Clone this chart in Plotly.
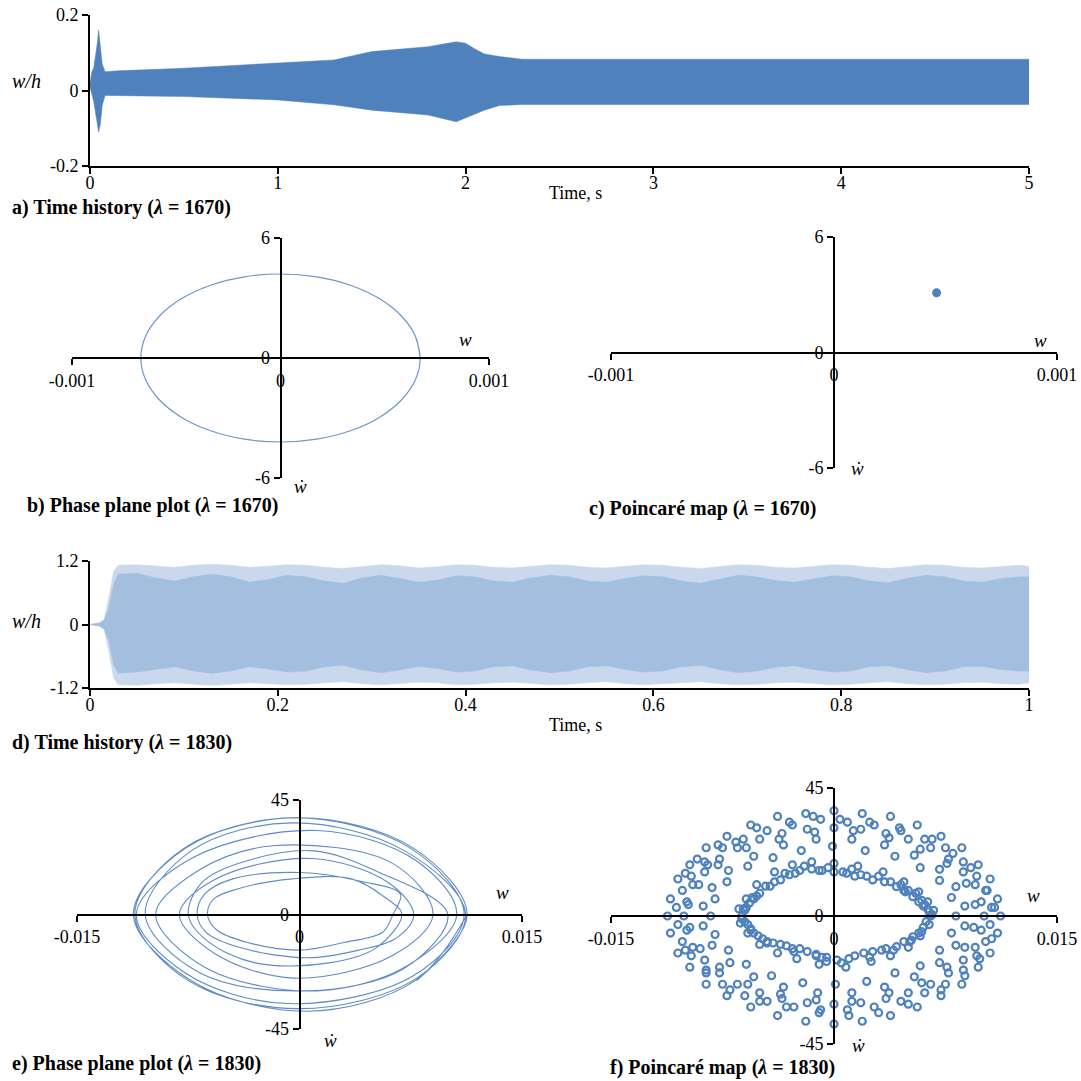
import numpy as np
import plotly.graph_objects as go

W, H = 1081, 1081
BLUE = '#4F81BD'
FONT = 'Liberation Serif, Times New Roman, DejaVu Serif, serif'

# ---------------- a) time history, lambda = 1670 (response band envelope) ----------------
a_t   = [0, 0.01, 0.02, 0.03, 0.04, 0.046, 0.055, 0.065, 0.08, 0.15, 0.5, 1.0, 1.3, 1.5, 1.8, 1.95, 2.0, 2.05, 2.1, 2.18, 2.3, 5.0]
a_top = [0.02, 0.05, 0.06, 0.09, 0.13, 0.16, 0.12, 0.07, 0.05, 0.052, 0.059, 0.072, 0.081, 0.103, 0.116, 0.129, 0.125, 0.11, 0.097, 0.09, 0.083, 0.083]
a_bot = [0.01, -0.01, -0.03, -0.06, -0.09, -0.11, -0.09, -0.04, -0.013, -0.013, -0.016, -0.025, -0.038, -0.052, -0.065, -0.083, -0.073, -0.062, -0.052, -0.04, -0.037, -0.037]

# ---------------- b) phase plane, lambda = 1670 ----------------
b_w = [0.00067, 0.000647, 0.00058, 0.000474, 0.000335, 0.000174, 0.0, -0.000174, -0.000335, -0.000474, -0.00058, -0.000647,
       -0.00067, -0.000647, -0.00058, -0.000474, -0.000335, -0.000174, 0.0, 0.000174, 0.000335, 0.000474, 0.00058, 0.000647,
       0.00067, 0.000647]
b_v = [0, 1.09, 2.1, 2.97, 3.64, 4.06, 4.2, 4.06, 3.64, 2.97, 2.1, 1.09,
       0, -1.09, -2.1, -2.97, -3.64, -4.06, -4.2, -4.06, -3.64, -2.97, -2.1, -1.09,
       0, 1.09]

# ---------------- c) Poincare map, lambda = 1670 ----------------
c_w = [0.00046]
c_v = [3.1]

# ---------------- d) time history, lambda = 1830 (envelopes) ----------------
d_t = [0, 0.01, 0.015, 0.02, 0.025, 0.03, 0.05, 0.07, 0.09, 0.11, 0.13, 0.15, 0.17, 0.19, 0.21, 0.23, 0.25,
       0.27, 0.29, 0.31, 0.33, 0.35, 0.37, 0.39, 0.41, 0.43, 0.45, 0.47, 0.49, 0.51, 0.53, 0.55, 0.57, 0.59,
       0.61, 0.63, 0.65, 0.67, 0.69, 0.71, 0.73, 0.75, 0.77, 0.79, 0.81, 0.83, 0.85, 0.87, 0.89, 0.91, 0.93,
       0.95, 0.97, 0.99, 1.0]
d_in_top = [0, 0.03, 0.08, 0.3, 0.75, 0.95,
            0.97, 0.88, 0.82, 0.9, 0.95, 0.9, 0.8, 0.85, 0.93, 0.9, 0.82, 0.78, 0.88, 0.93, 0.87,
            0.8, 0.84, 0.92, 0.9, 0.82, 0.8, 0.88, 0.93, 0.9, 0.82, 0.8, 0.87, 0.92, 0.9, 0.82,
            0.78, 0.86, 0.93, 0.9, 0.83, 0.8, 0.86, 0.92, 0.9, 0.82, 0.79, 0.87, 0.93, 0.9, 0.82,
            0.8, 0.87, 0.9, 0.9]
d_in_bot = [0, -0.03, -0.08, -0.3, -0.75, -0.92,
            -0.9, -0.85, -0.8, -0.88, -0.92, -0.88, -0.8, -0.84, -0.9, -0.88, -0.8, -0.77, -0.86, -0.91, -0.86,
            -0.79, -0.83, -0.9, -0.88, -0.8, -0.78, -0.86, -0.91, -0.88, -0.8, -0.78, -0.85, -0.9, -0.88, -0.8,
            -0.77, -0.85, -0.91, -0.88, -0.81, -0.78, -0.85, -0.9, -0.88, -0.8, -0.78, -0.85, -0.91, -0.88, -0.8,
            -0.79, -0.85, -0.88, -0.88]
d_out_top = [0, 0.03, 0.1, 0.5, 1.0, 1.12,
             1.13, 1.1, 1.08, 1.12, 1.14, 1.12, 1.08, 1.1, 1.13, 1.12, 1.08, 1.06, 1.1, 1.13, 1.11,
             1.07, 1.09, 1.13, 1.12, 1.08, 1.07, 1.1, 1.13, 1.12, 1.08, 1.07, 1.1, 1.13, 1.12, 1.08,
             1.06, 1.1, 1.13, 1.12, 1.08, 1.07, 1.1, 1.13, 1.12, 1.08, 1.06, 1.1, 1.13, 1.12, 1.08,
             1.07, 1.1, 1.12, 1.1]
d_out_bot = [0, -0.03, -0.1, -0.5, -1.0, -1.14,
             -1.15, -1.12, -1.1, -1.13, -1.15, -1.13, -1.1, -1.12, -1.14, -1.13, -1.1, -1.08, -1.12, -1.14, -1.12,
             -1.09, -1.1, -1.14, -1.13, -1.1, -1.09, -1.12, -1.14, -1.13, -1.1, -1.08, -1.12, -1.14, -1.13, -1.1,
             -1.08, -1.12, -1.14, -1.13, -1.1, -1.09, -1.12, -1.14, -1.13, -1.1, -1.08, -1.12, -1.14, -1.13, -1.1,
             -1.09, -1.12, -1.13, -1.1]

# ---------------- e) phase plane, lambda = 1830 (w in 1e-4 units) ----------------
e_w = [113, 78, 5, -73, -112, -77, -5, 75,
       111, 77, -8, -77, -110, -73, 12, 79,
       106, 73, 12, -63, -97, -69, -18, 63,
       90, 63, -4, -58, -81, -58, 8, 60,
       77, 66, 40, 5, -40, -63, -69, -64, -45, 0, 42, 68,
       63, 56, 30, 0, -35, -56, -62, -58, -42, -5, 35, 57,
       69, 52, 20, -30, -63, -75, -65, -30, 10, 52,
       100, 71, 5, -67, -104, -73, -5, 71,
       112, 79, 0, -75, -111, -78, 0, 77, 113, 79]
e_v = [0, -26, -38, -26, 0, 26, 38, 26,
       0, -24, -35, -23, 0, 22, 33, 21,
       0, -20, -30, -21, 0, 17, 27, 20,
       0, -16, -25, -15, 0, 13.5, 22, 12.5,
       0, -9, -14, -17, -13, -7, 0, 8, 14, 16.5, 13, 8,
       0, -7, -11, -14, -11, -6, 0, 6, 10, 14, 14, 7,
       0, -13, -19, -19, -10, 0, 13, 22, 25, 17,
       0, -21, -30, -23, 0, 25, 36, 25,
       0, -25, -37, -26, 0, 26, 38, 26, 0, -26]

# ---------------- f) Poincare map, lambda = 1830 (w in 1e-4 units) ----------------
f_w = [65, 60, 53, 42, 26, 8.5, -8, -23, -36, -50, -57, -62, -58, -54, -48, -41, -32, -23, -12, 2, 20, 32, 42, 53, 60, 47, 14, -5,
       67, 63, 57, 47, 33, 16, 0, -15, -28, -40, -52, -59, -64, -63, -58, -50, -38, -25, -10, 8, 25, 38, 50, 58, 64,
       64, 57, 48, 34, 18, 0, -15, -30, -43, -54, -60, -60, -51, -36, -18, -5, 10, 26, 47, 57, 62,
       63, 59, 50, 38, 22, 6, -10, -26, -40, -52, -59, -56, -45, -28, -8, 14, 35, 52,
       66, 61, 55, 45, 30, 12, -4, -20, -33, -46, -55, -61, -62, -56, -45, -27, -12, 5, 24, 40, 51, 59,
       82, 79, 71, 58, 41, 21, -1, -22, -41, -58, -72, -80, -83, -80, -71, -59, -42, -21, 1, 22, 41, 58, 71, 79,
       88, 82, 71, 54, 34, 12, -12, -34, -54, -71, -82, -88, -88, -82, -70, -54, -34, -11, 12, 34, 54, 71, 82, 88,
       95, 89, 76, 58, 37, 13, -13, -37, -59, -78, -91, -98, -97, -90, -77, -58, -36, -12, 12, 37, 59, 76, 88, 94,
       101, 99, 95, 87, 77, 65, 50, 35, 18, 0, -18, -35, -50, -65, -77, -87, -95, -99,
       -101, -99, -95, -87, -77, -65, -50, -35, -18, 0, 18, 35, 50, 65, 77, 87, 95, 99,
       106, 102, 96, 87, 75, 61, 45, 27, 9, -9, -28, -45, -61, -75, -87, -96, -102, -106,
       -105, -102, -96, -86, -75, -60, -45, -27, -9, 9, 27, 45, 61, 75, 87, 96, 102, 105,
       112, 110, 105, 97, 86, 72, 56, 38, 19, 0, -19, -38, -56, -72, -86, -97, -105, -110,
       -112, -110, -105, -97, -86, -72, -56, -38, -19, 0, 19, 38, 56, 72, 86, 97, 105, 110,
       -100, -92, -85, -78, -66, -52, -30, -14, 4, 24, 44, 66, 80, 92, 103, 108,
       106, 98, 88, 72, 50, 30, 10, -10, -32, -50, -70, -86, -100]
f_v = [0, 3.5, 6.8, 10.3, 12.7, 15, 16, 16, 12.7, 8, 4.5, 0, -3, -6, -8, -9.5, -10.5, -11.5, -13.5, -15.5, -13, -12, -10.8, -7.3, -4, 9, 14, -16,
       2, 5, 8.5, 12, 15.5, 17.5, 18.5, 19, 18, 15.5, 11, 6, 2.5, -2.5, -6, -10, -13, -15, -17, -18, -16, -14, -11, -7, -3,
       1.5, 5, 8.5, 12, 14.5, 15.5, 16.5, 14.5, 10.5, 6, 2, -2, -7, -10, -12.5, -14.5, -15, -12.5, -9, -6, -2,
       2.5, 5.5, 9, 12, 14, 15.5, 16, 15, 12, 7, 3, -4.5, -9, -11.5, -14.5, -14, -11.5, -8.5,
       0.5, 4, 8, 11, 14, 16.5, 17, 17.5, 15, 10.5, 6.5, 2.5, -1, -5, -9.5, -12.5, -14, -16.5, -14.5, -12, -9, -5.5,
       0, 6.5, 12.5, 17, 21, 23, 24.5, 23, 20.5, 17.5, 12, 6, 0, -6.5, -12, -17, -21, -23.5, -24, -23, -20, -17.5, -12, -6,
       3.5, 10.3, 16.4, 21.4, 25, 27, 27, 25, 21, 16, 10, 3.5, -3.5, -10.3, -16.4, -21.4, -25, -27, -27, -25, -21.4, -16.4, -10.3, -3.5,
       4, 11.5, 18.5, 23.5, 27.5, 30, 29.5, 27, 24, 18, 11, 4, -4, -11.5, -18, -24, -27.5, -29.5, -30, -27, -23.5, -18, -11, -4,
       0, 5, 11, 15.5, 20, 24, 27, 29, 30.5, 31, 30.5, 29, 27, 24, 20, 15.5, 11, 5,
       0, -5, -11, -15.5, -20, -24, -27, -29, -30.5, -31, -30.5, -29, -27, -24, -20, -15.5, -11, -5,
       3, 9, 14, 19, 24, 27, 30, 32, 33, 34, 32, 30, 27, 24, 19, 14, 9, 3,
       -3, -9, -14, -19, -24, -28, -30, -32, -33, -33, -32, -30, -27, -24, -19, -14, -9, -3,
       0, 6, 13, 18, 24, 28, 32, 35, 36, 37, 36, 35, 32, 28, 24, 18, 13, 6,
       0, -6, -13, -18, -24, -28, -32, -35, -37, -38, -37, -35, -32, -28, -24, -18, -13, -6,
       15, 20, 18, 25, 26, 31, 33, 35, 34, 33, 31, 27, 22, 17, 9, 3,
       -8, -15, -21, -26, -31, -34, -35, -34, -32, -30, -26, -20, -12]


def px(x):
    return x / W


def py(y):
    return 1 - y / H


fig = go.Figure()

# a) filled band
fig.add_trace(go.Scatter(x=a_t + a_t[::-1], y=a_top + a_bot[::-1], mode='lines', fill='toself',
                         fillcolor=BLUE, line=dict(color=BLUE, width=0.5), xaxis='x', yaxis='y', hoverinfo='skip'))
# b) ellipse
fig.add_trace(go.Scatter(x=b_w, y=b_v, mode='lines', line=dict(color='#6E97C9', width=1.2, shape='spline', smoothing=1.0),
                         xaxis='x2', yaxis='y2', hoverinfo='skip'))
# c) single point
fig.add_trace(go.Scatter(x=c_w, y=c_v, mode='markers', marker=dict(color=BLUE, size=9),
                         xaxis='x3', yaxis='y3', hoverinfo='skip'))
# d) bands
fig.add_trace(go.Scatter(x=d_t + d_t[::-1], y=d_out_top + d_out_bot[::-1], mode='lines', fill='toself',
                         fillcolor='#C9D8EC', line=dict(color='#C9D8EC', width=0.5), xaxis='x4', yaxis='y4', hoverinfo='skip'))
fig.add_trace(go.Scatter(x=d_t + d_t[::-1], y=d_in_top + d_in_bot[::-1], mode='lines', fill='toself',
                         fillcolor='#A3BEDF', line=dict(color='#A3BEDF', width=0.5), xaxis='x4', yaxis='y4', hoverinfo='skip'))
# e) trajectory
fig.add_trace(go.Scatter(x=np.array(e_w) * 1e-4, y=e_v, mode='lines',
                         line=dict(color='#5F8CC4', width=1.1, shape='spline', smoothing=1.0),
                         xaxis='x5', yaxis='y5', hoverinfo='skip'))
# f) Poincare points
fig.add_trace(go.Scatter(x=np.array(f_w) * 1e-4, y=f_v, mode='markers',
                         marker=dict(symbol='circle-open', color=BLUE, size=7, line=dict(width=2.2, color=BLUE)),
                         xaxis='x6', yaxis='y6', hoverinfo='skip'))


def axis(domain, rng, tickvals, ticktext, **kw):
    d = dict(domain=domain, range=rng, tickvals=tickvals, ticktext=ticktext, showgrid=False, zeroline=False,
             showline=True, linecolor='black', linewidth=2, ticks='outside', ticklen=6, tickwidth=2,
             tickcolor='black', tickfont=dict(family=FONT, size=18, color='black'), fixedrange=True,
             automargin=False)
    d.update(kw)
    return d


t5 = [0, 1, 2, 3, 4, 5]
t1 = [0, 0.2, 0.4, 0.6, 0.8, 1]
layout = dict(
    width=W, height=H, autosize=False,
    margin=dict(l=0, r=0, t=0, b=0, pad=0, autoexpand=False),
    paper_bgcolor='white', plot_bgcolor='white',
    showlegend=False, font=dict(family=FONT),
    xaxis=axis([px(90), px(1029)], [0, 5], t5, [str(v) for v in t5], anchor='y', ticklabelstandoff=-7),
    yaxis=axis([py(166), py(15)], [-0.2, 0.2], [-0.2, 0, 0.2], ['-0.2', '0', '0.2'], anchor='x'),
    xaxis2=axis([px(72), px(489)], [-0.001, 0.001], [-0.001, 0, 0.001], ['-0.001', '0', '0.001'],
                anchor='free', position=py(358)),
    yaxis2=axis([py(478), py(238)], [-6, 6], [-6, 0, 6], ['-6', '0', '6'], anchor='free', position=px(280.5)),
    xaxis3=axis([px(611), px(1057)], [-0.001, 0.001], [-0.001, 0, 0.001], ['-0.001', '0', '0.001'],
                anchor='free', position=py(352.5)),
    yaxis3=axis([py(468), py(237)], [-6, 6], [-6, 0, 6], ['-6', '0', '6'], anchor='free', position=px(834)),
    xaxis4=axis([px(90), px(1029)], [0, 1], t1, ['0', '0.2', '0.4', '0.6', '0.8', '1'], anchor='y4',
                ticklabelstandoff=-7),
    yaxis4=axis([py(688), py(561)], [-1.2, 1.2], [-1.2, 0, 1.2], ['-1.2', '0', '1.2'], anchor='x4'),
    xaxis5=axis([px(77), px(522)], [-0.015, 0.015], [-0.015, 0, 0.015], ['-0.015', '0', '0.015'],
                anchor='free', position=py(914.5)),
    yaxis5=axis([py(1029), py(800)], [-45, 45], [-45, 0, 45], ['-45', '0', '45'], anchor='free', position=px(299.5)),
    xaxis6=axis([px(611), px(1057)], [-0.015, 0.015], [-0.015, 0, 0.015], ['-0.015', '0', '0.015'],
                anchor='free', position=py(916)),
    yaxis6=axis([py(1044), py(788)], [-45, 45], [-45, 0, 45], ['-45', '0', '45'], anchor='free', position=px(834)),
)

ann = []


def add(x, y, text, size=20, xanchor='left'):
    ann.append(dict(x=px(x), y=py(y), xref='paper', yref='paper', text=text, showarrow=False,
                    xanchor=xanchor, yanchor='middle', font=dict(family=FONT, size=size, color='black')))


# captions
add(10, 208, '<b>a) Time history (<i>λ</i> = 1670)</b>')
add(25, 505, '<b>b) Phase plane plot (<i>λ</i> = 1670)</b>')
add(587, 508, '<b>c) Poincaré map (<i>λ</i> = 1670)</b>')
add(10, 742, '<b>d) Time history (<i>λ</i> = 1830)</b>')
add(10, 1063, '<b>e) Phase plane plot (<i>λ</i> = 1830)</b>')
add(608, 1067, '<b>f) Poincaré map (<i>λ</i> = 1830)</b>')
# axis titles
add(10, 81, '<i>w/h</i>', size=20)
add(547, 193, 'Time, s', size=18)
add(10, 621, '<i>w/h</i>', size=20)
add(547, 725, 'Time, s', size=18)
add(465, 339, '<i>w</i>', size=19, xanchor='center')
add(300, 487, '<i>ẇ</i>', size=19, xanchor='center')
add(1040, 340, '<i>w</i>', size=19, xanchor='center')
add(857, 468, '<i>ẇ</i>', size=19, xanchor='center')
add(502, 892, '<i>w</i>', size=19, xanchor='center')
add(330, 1040, '<i>ẇ</i>', size=19, xanchor='center')
add(1033, 895, '<i>w</i>', size=19, xanchor='center')
add(858, 1045, '<i>ẇ</i>', size=19, xanchor='center')

layout['annotations'] = ann
fig.update_layout(**layout)
fig.write_html('out.html', post_script="document.body.style.margin='0';document.body.style.overflow='hidden';")
